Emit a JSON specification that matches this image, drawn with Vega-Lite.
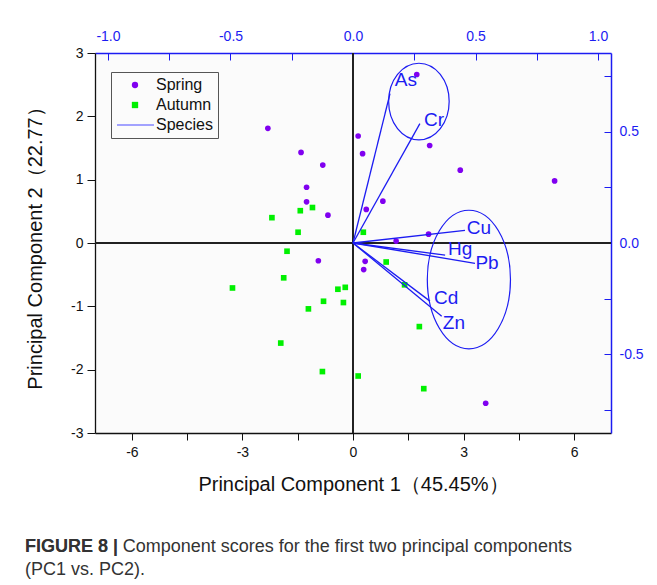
{
  "$schema": "https://vega.github.io/schema/vega-lite/v6.json",
  "width": 516,
  "height": 380,
  "autosize": {"type": "none"},
  "padding": {"left": 95, "top": 53, "right": 46, "bottom": 152},
  "background": "white",
  "config": {
    "view": {"stroke": null, "fill": "#fbfbfb"},
    "font": "Liberation Sans"
  },
  "title": {
    "text": "FIGURE 8 |",
    "subtitle": ["FIGURE 8 | Component scores for the first two principal components", "(PC1 vs. PC2)."],
    "orient": "bottom",
    "anchor": "start",
    "frame": "group",
    "dx": -70,
    "offset": 44,
    "font": "Liberation Sans",
    "fontSize": 18,
    "fontWeight": "bold",
    "color": "#333",
    "subtitleFont": "Liberation Sans",
    "subtitleFontSize": 18,
    "subtitleColor": "#333",
    "subtitlePadding": -18,
    "subtitleLineHeight": 23
  },
  "resolve": {"scale": {"x": "independent", "y": "independent"}, "axis": {"x": "independent", "y": "independent"}},
  "layer": [
    {
      "data": {"values": [
        {"pc1": -2.31, "pc2": 1.81, "season": "Spring"},
        {"pc1": -1.41, "pc2": 1.43, "season": "Spring"},
        {"pc1": -0.82, "pc2": 1.23, "season": "Spring"},
        {"pc1": -1.26, "pc2": 0.88, "season": "Spring"},
        {"pc1": -1.26, "pc2": 0.65, "season": "Spring"},
        {"pc1": -0.68, "pc2": 0.44, "season": "Spring"},
        {"pc1": 0.14, "pc2": 1.69, "season": "Spring"},
        {"pc1": 0.26, "pc2": 1.41, "season": "Spring"},
        {"pc1": 0.36, "pc2": 0.53, "season": "Spring"},
        {"pc1": 0.81, "pc2": 0.66, "season": "Spring"},
        {"pc1": 1.73, "pc2": 2.66, "season": "Spring"},
        {"pc1": 2.08, "pc2": 1.54, "season": "Spring"},
        {"pc1": 2.91, "pc2": 1.15, "season": "Spring"},
        {"pc1": 5.47, "pc2": 0.98, "season": "Spring"},
        {"pc1": 2.05, "pc2": 0.14, "season": "Spring"},
        {"pc1": 1.17, "pc2": 0.03, "season": "Spring"},
        {"pc1": -0.94, "pc2": -0.28, "season": "Spring"},
        {"pc1": 0.33, "pc2": -0.29, "season": "Spring"},
        {"pc1": 0.29, "pc2": -0.42, "season": "Spring"},
        {"pc1": 3.6, "pc2": -2.53, "season": "Spring"},
        {"pc1": -2.2, "pc2": 0.4, "season": "Autumn"},
        {"pc1": -1.43, "pc2": 0.51, "season": "Autumn"},
        {"pc1": -1.1, "pc2": 0.56, "season": "Autumn"},
        {"pc1": -1.49, "pc2": 0.17, "season": "Autumn"},
        {"pc1": 0.28, "pc2": 0.17, "season": "Autumn"},
        {"pc1": -1.79, "pc2": -0.13, "season": "Autumn"},
        {"pc1": -1.88, "pc2": -0.55, "season": "Autumn"},
        {"pc1": -3.27, "pc2": -0.71, "season": "Autumn"},
        {"pc1": -0.41, "pc2": -0.73, "season": "Autumn"},
        {"pc1": -0.21, "pc2": -0.7, "season": "Autumn"},
        {"pc1": -0.8, "pc2": -0.92, "season": "Autumn"},
        {"pc1": -0.26, "pc2": -0.94, "season": "Autumn"},
        {"pc1": -1.21, "pc2": -1.04, "season": "Autumn"},
        {"pc1": -1.96, "pc2": -1.58, "season": "Autumn"},
        {"pc1": -0.83, "pc2": -2.03, "season": "Autumn"},
        {"pc1": 0.14, "pc2": -2.1, "season": "Autumn"},
        {"pc1": 0.9, "pc2": -0.3, "season": "Autumn"},
        {"pc1": 1.4, "pc2": -0.66, "season": "Autumn"},
        {"pc1": 1.8, "pc2": -1.32, "season": "Autumn"},
        {"pc1": 1.92, "pc2": -2.3, "season": "Autumn"}
      ]},
      "layer": [
        {
          "mark": {"type": "rule", "color": "#222", "strokeWidth": 1.3},
          "encoding": {
            "x": {"datum": 0, "type": "quantitative", "scale": {"domain": [-7, 7], "nice": false, "zero": false}}
          }
        },
        {
          "mark": {"type": "rule", "color": "#222", "strokeWidth": 1.3},
          "encoding": {
            "y": {"datum": 0, "type": "quantitative", "scale": {"domain": [-3, 3], "nice": false, "zero": false}}
          }
        },
        {
          "mark": {"type": "point", "filled": true, "opacity": 1, "size": 32},
          "encoding": {
            "x": {
              "field": "pc1", "type": "quantitative",
              "scale": {"domain": [-7, 7], "nice": false, "zero": false},
              "axis": {
                "orient": "bottom",
                "values": [-6, -4.5, -3, -1.5, 0, 1.5, 3, 4.5, 6],
                "labelExpr": "datum.value % 3 === 0 ? '' + datum.value : ''",
                "title": "Principal Component 1（45.45%）",
                "titleFont": "Liberation Sans", "titleFontSize": 20, "titleFontWeight": "normal", "titleColor": "#111", "titlePadding": 15,
                "labelFont": "Liberation Sans", "labelFontSize": 14, "labelColor": "#111", "labelPadding": 5,
                "tickSize": 7, "tickColor": "#111", "domainColor": "#111", "domainWidth": 1.3, "grid": false
              }
            },
            "y": {
              "field": "pc2", "type": "quantitative",
              "scale": {"domain": [-3, 3], "nice": false, "zero": false},
              "axis": {
                "orient": "left",
                "values": [-3, -2.5, -2, -1.5, -1, -0.5, 0, 0.5, 1, 1.5, 2, 2.5, 3],
                "labelExpr": "datum.value % 1 === 0 ? '' + datum.value : ''",
                "title": "Principal Component 2（22.77）",
                "titleFont": "Liberation Sans", "titleFontSize": 20, "titleFontWeight": "normal", "titleColor": "#111", "titlePadding": 25,
                "labelFont": "Liberation Sans", "labelFontSize": 14, "labelColor": "#111", "labelPadding": 4,
                "tickSize": 8, "tickColor": "#111", "domainColor": "#111", "domainWidth": 1.3, "grid": false
              }
            },
            "color": {
              "field": "season", "type": "nominal",
              "scale": {"domain": ["Spring", "Autumn", "Species"], "range": ["#8000f0", "#00f000", "#8585ff"]},
              "legend": {
                "title": null, "orient": "none", "legendX": 16, "legendY": 19,
                "padding": 5, "strokeColor": "#555", "fillColor": "#fbfbfb",
                "labelFont": "Liberation Sans", "labelFontSize": 16, "labelColor": "#111",
                "symbolSize": 40, "symbolOffset": 11, "labelOffset": 13,
                "rowPadding": 4
              }
            },
            "shape": {
              "field": "season", "type": "nominal",
              "scale": {"domain": ["Spring", "Autumn", "Species"], "range": ["circle", "square", "M-5.7,-0.22L6,-0.22L6,0.22L-5.7,0.22Z"]}
            }
          }
        }
      ]
    },
    {
      "layer": [
        {
          "data": {"values": [
            {"element": "As", "l1": 0.151, "l2": 0.671, "lx": 0.216, "ly": 0.73},
            {"element": "Cr", "l1": 0.273, "l2": 0.536, "lx": 0.331, "ly": 0.55},
            {"element": "Cu", "l1": 0.457, "l2": 0.057, "lx": 0.514, "ly": 0.068},
            {"element": "Hg", "l1": 0.376, "l2": -0.054, "lx": 0.437, "ly": -0.027},
            {"element": "Pb", "l1": 0.498, "l2": -0.091, "lx": 0.547, "ly": -0.09},
            {"element": "Cd", "l1": 0.314, "l2": -0.261, "lx": 0.38, "ly": -0.248},
            {"element": "Zn", "l1": 0.362, "l2": -0.329, "lx": 0.412, "ly": -0.36}
          ]},
          "layer": [
            {
              "mark": {"type": "rule", "color": "#1c1cf2", "strokeWidth": 1.3},
              "encoding": {
                "x": {
                  "field": "l1", "type": "quantitative",
                  "scale": {"domain": [-1.053, 1.053], "nice": false, "zero": false},
                  "axis": {
                    "orient": "top",
                    "values": [-1, -0.75, -0.5, -0.25, 0, 0.25, 0.5, 0.75, 1],
                    "labelExpr": "(datum.value * 2) % 1 === 0 ? (datum.value < 0 ? '-' : '') + format(abs(datum.value), '.1f') : ''",
                    "title": null,
                    "labelFont": "Liberation Sans", "labelFontSize": 14, "labelColor": "#1c1cf2", "labelPadding": 17,
                    "tickSize": -7, "tickColor": "#1c1cf2", "domainColor": "#1c1cf2", "domainWidth": 1.5, "grid": false
                  }
                },
                "x2": {"datum": 0},
                "y": {
                  "field": "l2", "type": "quantitative",
                  "scale": {"domain": [-0.853, 0.853], "nice": false, "zero": false},
                  "axis": {
                    "orient": "right",
                    "values": [-0.75, -0.5, -0.25, 0, 0.25, 0.5, 0.75],
                    "labelExpr": "(datum.value * 2) % 1 === 0 ? (datum.value < 0 ? '-' : '') + format(abs(datum.value), '.1f') : ''",
                    "title": null,
                    "labelFont": "Liberation Sans", "labelFontSize": 14, "labelColor": "#1c1cf2", "labelPadding": 15,
                    "tickSize": -7, "tickColor": "#1c1cf2", "domainColor": "#1c1cf2", "domainWidth": 1.5, "grid": false
                  }
                },
                "y2": {"datum": 0}
              }
            },
            {
              "mark": {"type": "text", "color": "#1c1cf2", "font": "Liberation Sans", "fontSize": 19, "align": "center", "baseline": "middle"},
              "encoding": {
                "x": {"field": "lx", "type": "quantitative"},
                "y": {"field": "ly", "type": "quantitative"},
                "text": {"field": "element"}
              }
            }
          ]
        },
        {
          "data": {"values": [{"c1": 0.269, "c2": 0.635}]},
          "mark": {"type": "point", "filled": false, "color": "#1c1cf2", "strokeWidth": 1.2, "opacity": 1, "size": 5868,
            "shape": "M0.79,0 C0.79,0.552 0.436,1 0,1 C-0.436,1 -0.79,0.552 -0.79,0 C-0.79,-0.552 -0.436,-1 0,-1 C0.436,-1 0.79,-0.552 0.79,0 Z"},
          "encoding": {
            "x": {"field": "c1", "type": "quantitative"},
            "y": {"field": "c2", "type": "quantitative"}
          }
        },
        {
          "data": {"values": [{"c1": 0.473, "c2": -0.164}]},
          "mark": {"type": "point", "filled": false, "color": "#1c1cf2", "strokeWidth": 1.2, "opacity": 1, "size": 19210,
            "shape": "M0.6,0 C0.6,0.552 0.331,1 0,1 C-0.331,1 -0.6,0.552 -0.6,0 C-0.6,-0.552 -0.331,-1 0,-1 C0.331,-1 0.6,-0.552 0.6,0 Z"},
          "encoding": {
            "x": {"field": "c1", "type": "quantitative"},
            "y": {"field": "c2", "type": "quantitative"}
          }
        }
      ]
    }
  ]
}
